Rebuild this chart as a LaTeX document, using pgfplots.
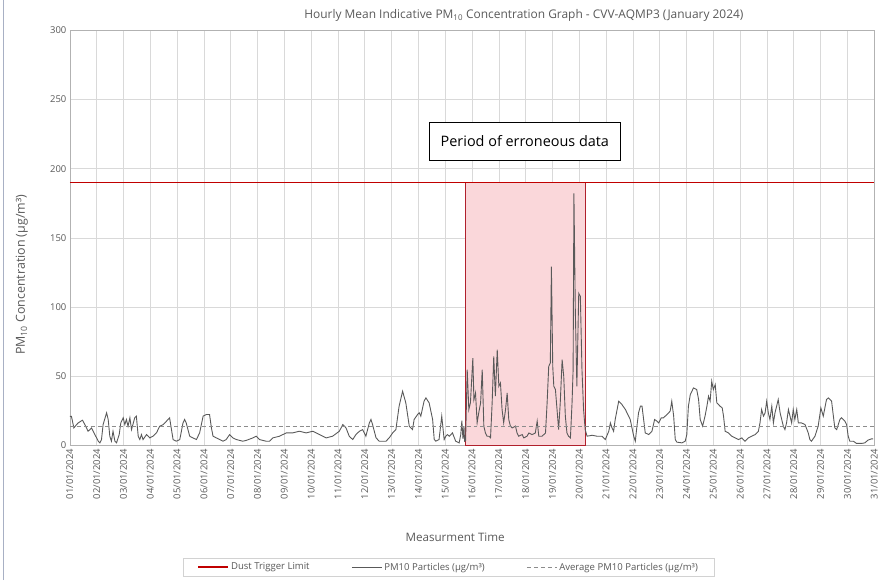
\documentclass[border=0pt]{standalone}
\usepackage{pgfplots}
\pgfplotsset{compat=1.18}
\usepackage{fontspec}
\setmainfont{Open Sans}
\definecolor{txt}{HTML}{595959}
\definecolor{gridc}{HTML}{D9D9D9}
\definecolor{dustred}{HTML}{C00000}
\definecolor{pmgrey}{HTML}{595959}
\definecolor{avggrey}{HTML}{8C8C8C}
\definecolor{pinkfill}{HTML}{FAD7DA}
\definecolor{rectborder}{HTML}{B0202C}
\definecolor{frameblue}{HTML}{A8B0C4}
\begin{document}
\begin{tikzpicture}
\begin{axis}[
  name=ax,
  scale only axis,
  width=806bp, height=416bp,
  xmin=0, xmax=30, ymin=0, ymax=300,
  xtick={0,1,...,30},
  xticklabels={01/01/2024,02/01/2024,03/01/2024,04/01/2024,05/01/2024,06/01/2024,07/01/2024,08/01/2024,09/01/2024,10/01/2024,11/01/2024,12/01/2024,13/01/2024,14/01/2024,15/01/2024,16/01/2024,17/01/2024,18/01/2024,19/01/2024,20/01/2024,21/01/2024,22/01/2024,23/01/2024,24/01/2024,25/01/2024,26/01/2024,27/01/2024,28/01/2024,29/01/2024,30/01/2024,31/01/2024},
  ytick={0,50,...,300},
  xticklabel style={rotate=90, anchor=east, font=\fontsize{9.5}{11}\selectfont, text=txt},
  yticklabel style={font=\fontsize{9.5}{11}\selectfont, text=txt},
  /pgf/number format/assume math mode=true,
  major tick length=0pt,
  grid=major,
  major grid style={gridc, line width=0.6pt},
  axis line style={draw=gray!60},
  legend style={at={(axis description cs:0.471,-0.293)}, anchor=center,
    draw=gray!35, legend columns=3, font=\fontsize{9.6}{11}\selectfont, text=txt,
    inner xsep=14bp, inner ysep=3bp,
    /tikz/every even column/.append style={column sep=40bp}},
  legend image code/.code={\draw[#1] (0bp,0bp) -- (30bp,0bp);},
  clip=false,
]
\addplot[forget plot, draw=rectborder, line width=1pt, fill=pinkfill] coordinates {(14.74,0) (14.74,190) (19.24,190) (19.24,0)} -- cycle;
\addplot[dustred, line width=1.6pt] coordinates {(0,190) (30,190)};
\addlegendentry{Dust Trigger Limit}
\addplot[pmgrey, line width=0.9pt] coordinates {
(0.00,21) (0.06,21) (0.15,12.7) (0.25,15.1) (0.31,16.3) (0.47,18.3) (0.56,15.1) (0.68,10.3) (0.81,12.7) (0.87,10.3)
(1.06,3.1) (1.12,1.9) (1.18,4.3) (1.24,15.1) (1.37,23.6) (1.43,18.8) (1.49,6.7) (1.55,3.1) (1.61,10.3) (1.68,3.1)
(1.74,1.9) (1.84,7.9) (1.90,16.3) (1.99,20.0) (2.05,15.1) (2.11,18.8) (2.17,13.9) (2.24,20.0) (2.30,11.5) (2.42,20.0)
(2.48,21.2) (2.55,6.7) (2.61,4.3) (2.67,7.9) (2.73,4.3) (2.86,7.9) (2.98,5.5) (3.10,6.7) (3.23,9.1) (3.35,13.9)
(3.48,15.1) (3.60,17.5) (3.72,20.0) (3.79,11.5) (3.85,4.3) (3.97,3.1) (4.10,4.3) (4.22,16.3) (4.28,18.8) (4.34,16.3)
(4.47,6.7) (4.59,5.5) (4.72,4.3) (4.84,9.1) (4.97,21.2) (5.09,22.4) (5.21,22.4) (5.28,12.7) (5.34,6.7) (5.46,5.5)
(5.59,4.3) (5.71,3.1) (5.83,4.3) (5.96,7.9) (6.08,5.5) (6.21,4.3) (6.45,3.1) (6.58,3.7) (6.83,5.5) (6.95,6.7)
(7.07,4.3) (7.32,3.1) (7.45,3.1) (7.57,5.5) (7.82,6.7) (8.07,9.1) (8.31,9.1) (8.56,10.3) (8.81,9.1) (9.06,10.3)
(9.31,7.9) (9.56,5.5) (9.80,6.7) (10.05,10.3) (10.18,15.1) (10.30,12.7) (10.42,6.7) (10.55,4.3) (10.67,7.9) (10.80,10.3)
(10.92,11.5) (11.04,6.7) (11.17,16.3) (11.23,18.8) (11.29,15.1) (11.42,5.5) (11.54,3.1) (11.79,3.1) (11.91,5.5) (12.04,9.1)
(12.16,11.5) (12.28,28.4) (12.41,39.2) (12.53,30.8) (12.66,13.9) (12.78,11.5) (12.84,18.8) (12.97,22.4) (13.03,23.6) (13.09,21.2)
(13.21,32.0) (13.28,34.4) (13.40,30.8) (13.53,18.8) (13.59,4.3) (13.65,3.1) (13.77,4.3) (13.87,21.2) (13.96,4.3) (14.02,6.7)
(14.08,7.9) (14.15,6.7) (14.27,9.1) (14.39,3.1) (14.52,1.9) (14.58,8) (14.62,18) (14.66,5) (14.70,14) (14.72,3)
(14.76,3.6) (14.82,54.8) (14.88,26) (14.94,30.8) (15.03,63.2) (15.07,33) (15.13,38) (15.19,16.4) (15.25,23.6) (15.32,30.8)
(15.38,54.8) (15.44,14) (15.50,9) (15.56,6.7) (15.63,6.7) (15.69,5.5) (15.75,30.8) (15.81,64.4) (15.87,35.6) (15.94,69.2)
(16.00,42.8) (16.06,45.2) (16.12,26) (16.18,16.4) (16.25,26) (16.31,38) (16.37,18.8) (16.43,14) (16.50,12.7) (16.62,14)
(16.68,9) (16.74,6.7) (16.87,7.9) (16.93,5.5) (17.05,6.7) (17.12,9) (17.24,7.9) (17.36,9) (17.43,17.6) (17.49,6.7)
(17.61,6.7) (17.74,9) (17.80,30.8) (17.86,57.2) (17.92,59.6) (17.96,129.3) (18.01,57.2) (18.05,42.8) (18.11,40.4) (18.17,26)
(18.23,11.5) (18.29,30.8) (18.36,62) (18.42,50) (18.48,21.2) (18.54,9) (18.60,6.7) (18.67,5.5) (18.73,30.8) (18.77,54.8)
(18.80,182.2) (18.85,100) (18.91,42.8) (18.98,110) (19.04,107.7) (19.10,54.8) (19.16,26) (19.22,11.5) (19.29,6.7)
(19.48,7.4) (19.66,6.7) (19.85,6.7) (19.97,4.3) (20.10,10.3) (20.16,16.3) (20.22,12.7) (20.28,10.3) (20.34,18.8) (20.47,32)
(20.53,30.8) (20.59,29.6) (20.72,26) (20.84,21.2) (20.90,18.8) (21.03,6.7) (21.09,3.1) (21.15,13.9) (21.21,23.6) (21.28,28.4)
(21.34,28.4) (21.40,18.8) (21.46,9.1) (21.59,7.9) (21.71,10.3) (21.81,18.8) (21.90,17.5) (21.96,16.3) (22.06,20) (22.14,20)
(22.27,22.4) (22.39,24.8) (22.45,32) (22.52,21.2) (22.58,4.3) (22.64,2.4) (22.83,1.9) (22.95,3.1) (23.01,7.9) (23.07,28.4)
(23.14,36.8) (23.26,41.6) (23.38,40.4) (23.45,33.2) (23.51,18.8) (23.60,14) (23.69,21.2) (23.76,28.4) (23.82,35.6) (23.88,32)
(23.94,46.4) (24.00,40.4) (24.07,44) (24.13,30.8) (24.25,28.4) (24.33,27.2) (24.38,21.2) (24.44,10.3) (24.56,9.1) (24.69,6.7)
(24.81,5.5) (24.94,4.3) (25.06,5.5) (25.18,3.1) (25.31,5.5) (25.43,6.7) (25.56,7.9) (25.68,10.3) (25.74,16.3) (25.80,26)
(25.87,21.2) (25.93,23.6) (25.99,32) (26.05,23.6) (26.11,18.8) (26.18,28.4) (26.24,16.3) (26.30,23.6) (26.36,28.4) (26.42,33.2)
(26.49,23.6) (26.55,18.8) (26.61,14) (26.67,11.5) (26.73,16.3) (26.80,26) (26.86,21.2) (26.92,16.3) (26.98,26) (27.04,18.8)
(27.11,26) (27.17,16.3) (27.29,16.3) (27.42,15.1) (27.54,9.1) (27.60,4.3) (27.66,3.1) (27.79,6.7) (27.91,14) (28.01,27.2)
(28.10,21.2) (28.22,33.2) (28.29,34.4) (28.41,32) (28.53,12.7) (28.60,11.5) (28.72,18.8) (28.78,20) (28.91,17.5) (28.97,15.1)
(29.03,6.7) (29.09,3.1) (29.22,3.1) (29.34,1.5) (29.53,1.5) (29.65,1.9) (29.77,3.9) (29.90,4.8) (29.96,4.8)
};
\addlegendentry{PM10 Particles (µg/m³)}
\addplot[avggrey, line width=0.8pt, dash pattern=on 4pt off 3pt] coordinates {(0,14) (30,14)};
\addlegendentry{Average PM10 Particles (µg/m³)}
\node[draw=black, fill=white, line width=0.6pt, minimum width=192bp, minimum height=38bp, font=\fontsize{14.5}{16}\selectfont, text=black] at (axis cs:16.97,220) {Period of erroneous data};
\node[font=\fontsize{12}{14}\selectfont, text=txt] at (axis description cs:0.5645,1.036) {Hourly Mean Indicative PM\textsubscript{10} Concentration Graph - CVV-AQMP3 (January 2024)};
\node[font=\fontsize{12.5}{14}\selectfont, text=txt, rotate=90] at (axis description cs:-0.0596,0.411) {PM\textsubscript{10} Concentration (µg/m³)};
\node[font=\fontsize{11.7}{13}\selectfont, text=txt] at (axis description cs:0.479,-0.221) {Measurment Time};
\end{axis}
\draw[frameblue, line width=0.8pt] ([xshift=-67bp,yshift=-135bp]ax.south west) -- ([xshift=-67bp,yshift=30bp]ax.north west);
\path ([xshift=-70bp,yshift=-135bp]ax.south west) rectangle ([xshift=5bp,yshift=30bp]ax.north east);
\end{tikzpicture}
\end{document}
